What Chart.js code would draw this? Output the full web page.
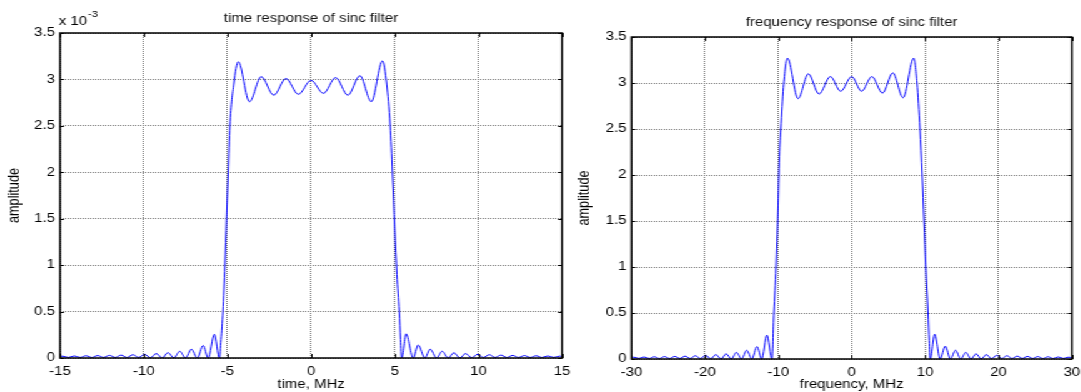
<!DOCTYPE html>
<html>
<head>
<meta charset="utf-8">
<script src="https://cdn.jsdelivr.net/npm/chart.js@4"></script>
<style>
  html, body { margin: 0; padding: 0; background: #fff; overflow: hidden; }
  /* the source picture is stretched sideways, so the whole drawing is too */
  #wrap { position: relative; width: 865px; height: 392px; transform: scaleX(1.25); transform-origin: 0 0; }
  canvas { position: absolute; top: 0; }
</style>
</head>
<body>
<div id="wrap">
  <canvas id="timeChart" width="457" height="392" style="left:0"></canvas>
  <canvas id="freqChart" width="408" height="392" style="left:457px"></canvas>
</div>
<script>
// amplitudes are in units of 1e-3
const timeX = [-15, -14.85, -14.5, -14.15, -13.8, -13.45, -13.1, -12.75, -12.4, -12.05, -11.7, -11.35, -11.0, -10.65, -10.3,
    -9.95, -9.6, -9.25, -8.9, -8.55, -8.2, -7.85, -7.5, -7.15, -6.8, -6.45, -6.15, -5.78, -5.48,
    -5.38, -5.27, -5.15, -5.05, -4.95, -4.85, -4.62, -4.35, -3.68, -2.98, -2.23, -1.5, -0.76, 0,
    0.74, 1.47, 2.2, 2.92, 3.6, 4.27, 4.52, 4.73, 4.86, 5.0, 5.13, 5.27, 5.35, 5.42,
    5.68, 6.1, 6.4, 6.8, 7.12, 7.5, 7.83, 8.2, 8.53, 8.9, 9.23, 9.6, 9.95, 10.3, 10.65, 11.0,
    11.35, 11.7, 12.05, 12.4, 12.75, 13.1, 13.45, 13.8, 14.15, 14.5, 14.85, 15];
const timeAmp = [0.015, 0.02, 0.006, 0.022, 0.006, 0.024, 0.006, 0.026, 0.006, 0.028, 0.006, 0.031, 0.006, 0.035, 0.006,
    0.04, 0.003, 0.048, 0, 0.058, 0, 0.072, 0, 0.095, 0, 0.135, 0, 0.255, 0,
    0.2, 0.5, 1.0, 1.5, 2.0, 2.5, 2.95, 3.19, 2.76, 3.03, 2.83, 3.01, 2.84, 2.99,
    2.85, 3.02, 2.83, 3.04, 2.76, 3.2, 2.95, 2.5, 2.0, 1.4, 0.9, 0.5, 0.2, 0,
    0.26, 0, 0.14, 0, 0.095, 0, 0.072, 0, 0.057, 0, 0.048, 0.003, 0.04, 0.006, 0.035, 0.006,
    0.031, 0.006, 0.028, 0.006, 0.026, 0.006, 0.024, 0.006, 0.022, 0.006, 0.02, 0.015];

const freqX = [-30, -29.7, -29.0, -28.3, -27.6, -26.9, -26.2, -25.5, -24.8, -24.1, -23.4, -22.7, -22.0, -21.3, -20.6,
    -19.9, -19.2, -18.5, -17.8, -17.1, -16.4, -15.7, -15.0, -14.3, -13.6, -12.9, -12.25, -11.55, -10.85,
    -10.6, -10.3, -10.05, -9.85, -9.65, -9.3, -8.75, -7.3, -5.9, -4.45, -2.9, -1.5, 0,
    1.35, 2.75, 4.2, 5.6, 7.0, 8.45, 8.9, 9.3, 9.6, 9.85, 10.1, 10.4, 10.55, 10.7,
    11.3, 12.05, 12.75, 13.45, 14.15, 14.85, 15.55, 16.25, 16.95, 17.65, 18.35, 19.05, 19.75, 20.45,
    21.15, 21.85, 22.55, 23.25, 23.95, 24.65, 25.35, 26.05, 26.75, 27.45, 28.15, 28.85, 29.55, 30];
const freqAmp = [0.015, 0.02, 0.006, 0.022, 0.006, 0.024, 0.006, 0.026, 0.006, 0.028, 0.006, 0.031, 0.006, 0.035, 0.006,
    0.04, 0.003, 0.048, 0, 0.057, 0, 0.072, 0, 0.095, 0, 0.135, 0, 0.26, 0,
    0.5, 1.0, 1.6, 2.2, 2.5, 2.95, 3.27, 2.83, 3.1, 2.88, 3.07, 2.91, 3.07,
    2.91, 3.07, 2.89, 3.11, 2.84, 3.27, 3.0, 2.5, 2.0, 1.5, 1.0, 0.5, 0.2, 0,
    0.27, 0, 0.14, 0, 0.095, 0, 0.072, 0, 0.057, 0, 0.048, 0.003, 0.04, 0.006,
    0.035, 0.006, 0.031, 0.006, 0.028, 0.006, 0.026, 0.006, 0.024, 0.006, 0.022, 0.006, 0.02, 0.012];

const timeTicks = [-15, -10, -5, 0, 5, 10, 15];
const freqTicks = [-30, -20, -10, 0, 10, 20, 30];
const ampTicks = [0, 0.5, 1, 1.5, 2, 2.5, 3, 3.5];

const FONT = "'Liberation Sans', Arial, sans-serif";
Chart.defaults.font.family = FONT;
Chart.defaults.font.size = 12;
Chart.defaults.color = "#000";

// box round the plot, inward tick marks, and the x 10^-3 note
const framePlugin = {
    id: "frame",
    afterDraw(chart, args, opts) {
        const { ctx, chartArea: a, scales: { x, y } } = chart;
        ctx.save();
        ctx.strokeStyle = "#000";
        ctx.lineWidth = 1;
        ctx.beginPath();
        x.ticks.forEach(t => {
            const px = Math.round(x.getPixelForValue(t.value)) + 0.5;
            ctx.moveTo(px, a.bottom); ctx.lineTo(px, a.bottom - 4);
            ctx.moveTo(px, a.top); ctx.lineTo(px, a.top + 4);
        });
        y.ticks.forEach(t => {
            const py = Math.round(y.getPixelForValue(t.value)) + 0.5;
            ctx.moveTo(a.left, py); ctx.lineTo(a.left + 3.2, py);
            ctx.moveTo(a.right, py); ctx.lineTo(a.right - 3.2, py);
        });
        ctx.stroke();
        ctx.lineWidth = 1.5;
        ctx.strokeRect(a.left, a.top, a.right - a.left, a.bottom - a.top);
        if (opts.exponent) {
            ctx.fillStyle = "#000";
            ctx.textBaseline = "middle";
            ctx.textAlign = "left";
            ctx.font = "12px " + FONT;
            ctx.fillText("x 10", a.left - 1, a.top - 11);
            const w = ctx.measureText("x 10").width;
            ctx.font = "9px " + FONT;
            ctx.fillText("-3", a.left - 1 + w + 0.5, a.top - 18);
        }
        ctx.restore();
    }
};

function makeChart(id, xs, ys, xTicks, cfg) {
    const points = xs.map((v, i) => ({ x: v, y: ys[i] }));
    return new Chart(document.getElementById(id), {
        type: "line",
        data: {
            datasets: [{
                data: points,
                borderColor: "#0000ff",
                borderWidth: 1,
                pointRadius: 0,
                fill: false,
                cubicInterpolationMode: "monotone",
            }],
        },
        options: {
            responsive: false,
            animation: false,
            layout: { padding: { left: 0, right: cfg.padRight, top: 0, bottom: 0 } },
            plugins: {
                legend: { display: false },
                tooltip: { enabled: false },
                title: {
                    display: true,
                    fullSize: false,
                    text: cfg.title,
                    color: "#111",
                    font: { size: 12, weight: "normal" },
                    padding: { top: cfg.titleTop, bottom: cfg.titleBottom },
                },
                frame: { exponent: cfg.exponent },
            },
            scales: {
                x: {
                    type: "linear",
                    min: xTicks[0],
                    max: xTicks[xTicks.length - 1],
                    afterBuildTicks: s => { s.ticks = xTicks.map(v => ({ value: v })); },
                    afterFit: s => { s.height = cfg.xHeight; s.paddingLeft = 0; s.paddingRight = 0; },
                    grid: { color: "#707070", drawTicks: false },
                    border: { display: false, dash: [1, 1] },
                    ticks: { padding: 6, maxRotation: 0, autoSkip: false },
                    title: { display: true, text: cfg.xTitle, padding: { top: 0, bottom: 0 } },
                },
                y: {
                    type: "linear",
                    min: ampTicks[0],
                    max: ampTicks[ampTicks.length - 1],
                    afterBuildTicks: s => { s.ticks = ampTicks.map(v => ({ value: v })); },
                    afterFit: s => { s.width = cfg.yWidth; s.paddingTop = 0; s.paddingBottom = 0; },
                    grid: { color: "#707070", drawTicks: false },
                    border: { display: false, dash: [1, 1] },
                    ticks: { padding: 4, autoSkip: false, callback: v => String(v) },
                    title: {
                        display: true,
                        text: "amplitude",
                        font: { size: 12.7 },
                        padding: { top: cfg.yTitlePad, bottom: 0 },
                    },
                },
            },
        },
        plugins: [framePlugin],
    });
}

makeChart("timeChart", timeX, timeAmp, timeTicks, {
    title: "time response of sinc filter",
    xTitle: "time, MHz",
    exponent: true,
    padRight: 7.4,
    titleTop: 11, titleBottom: 7.6,
    xHeight: 34,
    yWidth: 48,
    yTitlePad: 3.6,
});

makeChart("freqChart", freqX, freqAmp, freqTicks, {
    title: "frequency response of sinc filter",
    xTitle: "frequency, MHz",
    exponent: false,
    padRight: 7.4,
    titleTop: 15, titleBottom: 7.6,
    xHeight: 33,
    yWidth: 48.2,
    yTitlePad: 2.6,
});
</script>
</body>
</html>
